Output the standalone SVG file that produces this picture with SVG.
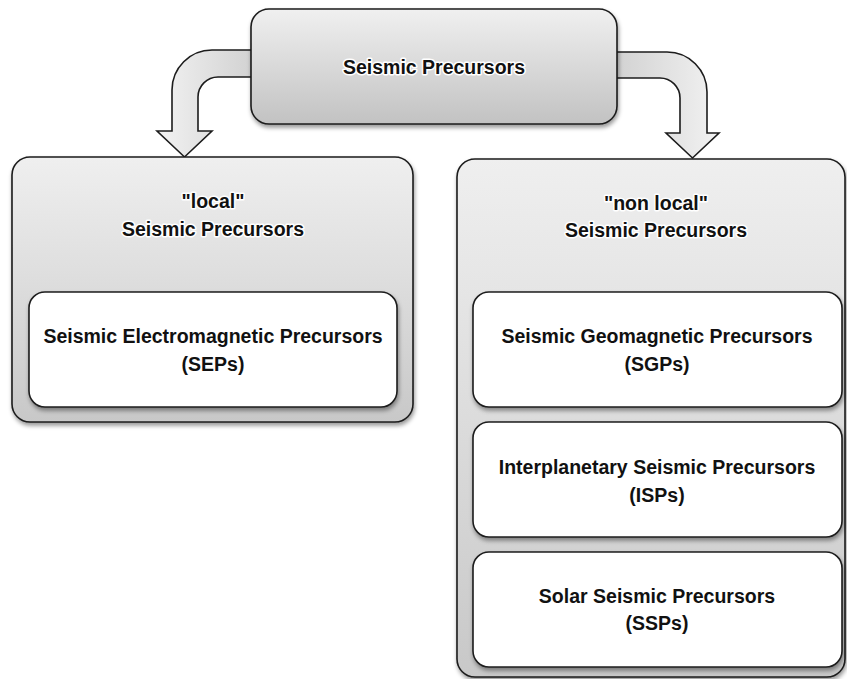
<svg xmlns="http://www.w3.org/2000/svg" width="847" height="679" viewBox="0 0 847 679">
  <defs>
    <linearGradient id="gTop" x1="0" y1="0" x2="0" y2="1">
      <stop offset="0" stop-color="#f0f0f0"/>
      <stop offset="1" stop-color="#c2c2c2"/>
    </linearGradient>
    <linearGradient id="gBig" x1="0" y1="0" x2="0" y2="1">
      <stop offset="0" stop-color="#efefef"/>
      <stop offset="0.45" stop-color="#dedede"/>
      <stop offset="1" stop-color="#c8c8c8"/>
    </linearGradient>
    <linearGradient id="gArrowL" x1="0" y1="0" x2="1" y2="0">
      <stop offset="0" stop-color="#f2f2f2"/>
      <stop offset="1" stop-color="#d0d0d0"/>
    </linearGradient>
    <linearGradient id="gArrowR" x1="0" y1="0" x2="1" y2="0">
      <stop offset="0" stop-color="#d0d0d0"/>
      <stop offset="1" stop-color="#f2f2f2"/>
    </linearGradient>
    <filter id="shadow" x="-10%" y="-10%" width="120%" height="130%">
      <feDropShadow dx="1" dy="3" stdDeviation="2" flood-color="#000" flood-opacity="0.4"/>
    </filter>
  </defs>
  <style>
    .outline { stroke: #1c1c1c; stroke-width: 1.6; }
    .inner { fill: #ffffff; stroke: #1c1c1c; stroke-width: 1.6; filter: url(#shadow); }
    .big { fill: url(#gBig); stroke: #1c1c1c; stroke-width: 1.6; filter: url(#shadow); }
    text { font-family: "Liberation Sans", Arial, sans-serif; font-weight: bold; font-size: 19.5px; text-anchor: middle; fill: #111111; }
    .halo { stroke: #ffffff; stroke-width: 3; stroke-linejoin: round; paint-order: stroke; }
  </style>
  <rect width="847" height="679" fill="#ffffff"/>

  <g id="connectors">
    <path class="outline" fill="url(#gArrowL)" d="M 258,50 L 212,50 A 40,40 0 0 0 172,90 L 172,131 L 157,131 L 184.5,157 L 212,131 L 198,131 L 198,97 A 20,20 0 0 1 218,77 L 258,77 Z"/>
    <path class="outline" fill="url(#gArrowR)" d="M 610,52 L 667,52 A 40,40 0 0 1 707,92 L 707,133 L 719,133 L 692.5,158 L 666,133 L 680,133 L 680,98 A 20,20 0 0 0 660,78 L 610,78 Z"/>
  </g>

  <g id="node-root">
    <rect x="251" y="9" width="366" height="115" rx="18" ry="18" fill="url(#gTop)" class="outline" filter="url(#shadow)"/>
    <text class="halo" x="434" y="74">Seismic Precursors</text>
  </g>

  <g id="node-local">
    <rect class="big" x="12" y="157" width="401" height="265" rx="18" ry="18"/>
    <text class="halo" x="213" y="208">"local"</text>
    <text class="halo" x="213" y="236">Seismic Precursors</text>
  </g>

  <g id="node-sep">
    <rect class="inner" x="29" y="292" width="368" height="115" rx="16" ry="16"/>
    <text x="213" y="343">Seismic Electromagnetic Precursors</text>
    <text x="213" y="371">(SEPs)</text>
  </g>

  <g id="node-nonlocal">
    <rect class="big" x="457" y="159" width="388" height="518" rx="18" ry="18"/>
    <text class="halo" x="656" y="210">"non local"</text>
    <text class="halo" x="656" y="237">Seismic Precursors</text>
  </g>

  <g id="node-sgp">
    <rect class="inner" x="473" y="292" width="369" height="115" rx="16" ry="16"/>
    <text x="657" y="343">Seismic Geomagnetic Precursors</text>
    <text x="657" y="371">(SGPs)</text>
  </g>

  <g id="node-isp">
    <rect class="inner" x="473" y="422" width="369" height="115" rx="16" ry="16"/>
    <text x="657" y="474">Interplanetary Seismic Precursors</text>
    <text x="657" y="502">(ISPs)</text>
  </g>

  <g id="node-ssp">
    <rect class="inner" x="473" y="552" width="369" height="115" rx="16" ry="16"/>
    <text x="657" y="603">Solar Seismic Precursors</text>
    <text x="657" y="630">(SSPs)</text>
  </g>
</svg>
